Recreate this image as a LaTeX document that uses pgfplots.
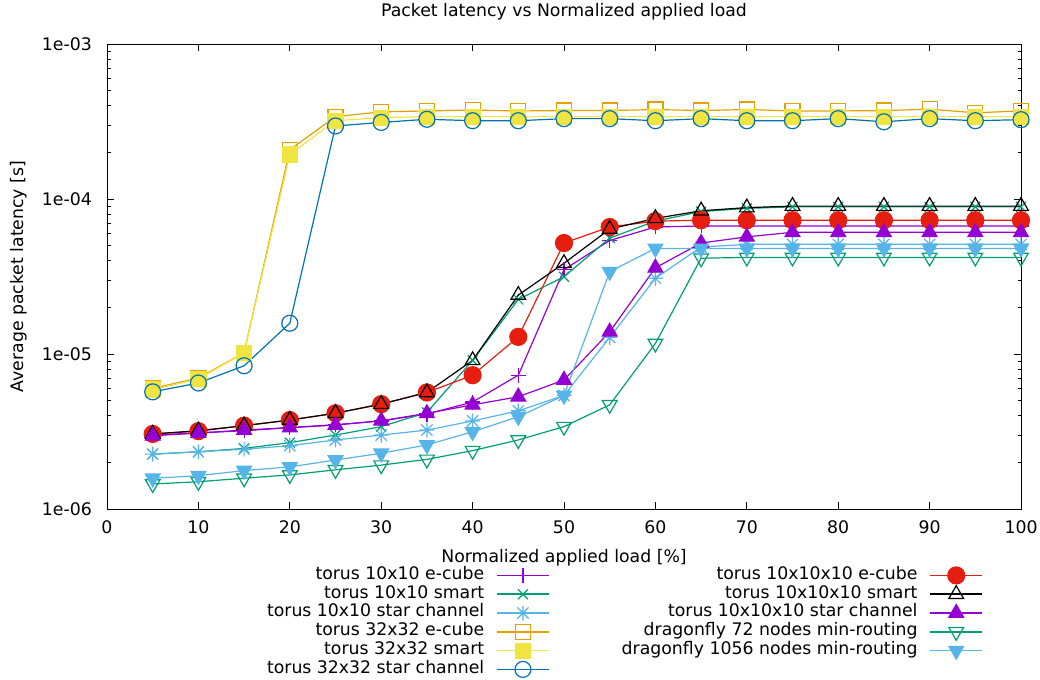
\documentclass[border=0pt]{standalone}
\usepackage{fontspec}
\setmainfont{DejaVu Sans}
\usepackage{pgfplots}
\pgfplotsset{compat=1.18}
\usetikzlibrary{plotmarks}
\definecolor{cpurple}{HTML}{9400D3}
\definecolor{cgreen}{HTML}{009E73}
\definecolor{clblue}{HTML}{56B4E9}
\definecolor{corange}{HTML}{E69F00}
\definecolor{cyellow}{HTML}{F0E442}
\definecolor{cblue}{HTML}{0072B2}
\definecolor{cred}{HTML}{E51E10}
\pgfdeclareplotmark{star8}{%
 \pgfpathmoveto{\pgfqpoint{-\pgfplotmarksize}{0pt}}%
 \pgfpathlineto{\pgfqpoint{\pgfplotmarksize}{0pt}}%
 \pgfpathmoveto{\pgfqpoint{0pt}{-\pgfplotmarksize}}%
 \pgfpathlineto{\pgfqpoint{0pt}{\pgfplotmarksize}}%
 \pgfpathmoveto{\pgfqpoint{-.75\pgfplotmarksize}{-.75\pgfplotmarksize}}%
 \pgfpathlineto{\pgfqpoint{.75\pgfplotmarksize}{.75\pgfplotmarksize}}%
 \pgfpathmoveto{\pgfqpoint{-.75\pgfplotmarksize}{.75\pgfplotmarksize}}%
 \pgfpathlineto{\pgfqpoint{.75\pgfplotmarksize}{-.75\pgfplotmarksize}}%
 \pgfusepathqstroke}
\begin{document}
\begin{tikzpicture}
\path[use as bounding box] (0,0) rectangle (1040bp,680bp);
\begin{axis}[
 at={(107bp,171bp)}, anchor=south west,
 scale only axis, width=914bp, height=465bp,
 ymode=log, xmin=0, xmax=100, ymin=1e-6, ymax=1e-3,
 xtick={0,10,...,100},
 ytick={1e-6,1e-5,1e-4,1e-3},
 yticklabels={1e-06,1e-05,1e-04,1e-03},
 /pgf/number format/assume math mode=true,
 tick align=inside,
 major tick length=7bp, minor tick length=3.5bp,
 axis line style={line width=1bp},
 every tick/.style={black, line width=0.8bp},
 font=\fontsize{17.3bp}{20bp}\selectfont,
 tick label style={font=\fontsize{17.3bp}{20bp}\selectfont},
 xticklabel style={anchor=center, inner sep=0pt, yshift=-18bp},
 yticklabel style={anchor=east, inner sep=0pt, xshift=-15bp},
 title={Packet latency vs Normalized applied load},
 title style={at={(axis description cs:0.5,1.057)}, anchor=center, inner sep=0pt},
 xlabel={Normalized applied load [\%]},
 xlabel style={at={(axis description cs:0.5,-0.104)}, anchor=center, inner sep=0pt},
 ylabel={Average packet latency [s]},
 ylabel style={at={(axis description cs:-0.0963,0.5)}, anchor=center, inner sep=0pt},
 clip=false, axis on top,
 every axis plot/.append style={line width=1.2bp},
 legend image code/.code={%
   \draw[#1, mark=none, line width=1.5bp] (0bp,0bp) -- (52bp,0bp);%
   \draw[#1, line width=1.2bp] plot coordinates {(26bp,0bp)};},
 legend plot pos=right, legend cell align=right,
 transpose legend, legend columns=6,
 legend style={at={(axis description cs:0.9584,-0.1226)}, anchor=north east, draw=none, fill=none,
   inner sep=0pt, outer sep=0pt, row sep=0pt, font=\fontsize{17.3bp}{19bp}\selectfont,
   nodes={inner xsep=0pt, inner ysep=0pt, text height=13.3bp, text depth=5.5bp},
   /tikz/every odd column/.append style={column sep=12bp},
   /tikz/every even column/.append style={column sep=72bp}},
]
\addplot[color=cpurple, mark=+, mark size=7.5bp] coordinates {
(5,3.0e-6)(10,3.1e-6)(15,3.2e-6)(20,3.35e-6)(25,3.5e-6)(30,3.7e-6)(35,4.1e-6)(40,4.9e-6)(45,7.3e-6)(50,3.5e-5)
(55,5.4e-5)(60,6.6e-5)(65,6.7e-5)(70,6.7e-5)(75,6.7e-5)(80,6.7e-5)(85,6.7e-5)(90,6.7e-5)(95,6.7e-5)(100,6.7e-5)};
\addlegendentry{torus 10x10 e-cube}
\addplot[color=cgreen, mark=x, mark size=7bp] coordinates {
(5,2.26e-6)(10,2.34e-6)(15,2.46e-6)(20,2.68e-6)(25,3.0e-6)(30,3.4e-6)(35,4.2e-6)(40,9.1e-6)(45,2.25e-5)(50,3.15e-5)
(55,5.6e-5)(60,7.2e-5)(65,8.3e-5)(70,8.7e-5)(75,8.9e-5)(80,8.9e-5)(85,8.9e-5)(90,8.9e-5)(95,8.9e-5)(100,8.9e-5)};
\addlegendentry{torus 10x10 smart}
\addplot[color=clblue, mark=star8, mark size=7.5bp] coordinates {
(5,2.26e-6)(10,2.34e-6)(15,2.43e-6)(20,2.56e-6)(25,2.79e-6)(30,3.0e-6)(35,3.23e-6)(40,3.7e-6)(45,4.3e-6)(50,5.4e-6)
(55,1.28e-5)(60,3.08e-5)(65,4.9e-5)(70,5.1e-5)(75,5.1e-5)(80,5.1e-5)(85,5.1e-5)(90,5.1e-5)(95,5.1e-5)(100,5.1e-5)};
\addlegendentry{torus 10x10 star channel}
\addplot[color=corange, mark=square, mark size=7.5bp] coordinates {
(5,6.0e-6)(10,7.0e-6)(15,1.02e-5)(20,2.08e-4)(25,3.4e-4)(30,3.65e-4)(35,3.7e-4)(40,3.75e-4)(45,3.7e-4)(50,3.72e-4)
(55,3.72e-4)(60,3.78e-4)(65,3.72e-4)(70,3.78e-4)(75,3.7e-4)(80,3.7e-4)(85,3.72e-4)(90,3.8e-4)(95,3.6e-4)(100,3.7e-4)};
\addlegendentry{torus 32x32 e-cube}
\addplot[color=cyellow, mark=square*, mark options={fill=cyellow}, mark size=7.5bp] coordinates {
(5,5.9e-6)(10,6.9e-6)(15,1.02e-5)(20,1.94e-4)(25,3.2e-4)(30,3.35e-4)(35,3.4e-4)(40,3.4e-4)(45,3.4e-4)(50,3.4e-4)
(55,3.4e-4)(60,3.4e-4)(65,3.4e-4)(70,3.4e-4)(75,3.4e-4)(80,3.4e-4)(85,3.4e-4)(90,3.4e-4)(95,3.4e-4)(100,3.4e-4)};
\addlegendentry{torus 32x32 smart}
\addplot[color=cblue, mark=o, mark size=8bp] coordinates {
(5,5.7e-6)(10,6.5e-6)(15,8.4e-6)(20,1.58e-5)(25,2.96e-4)(30,3.12e-4)(35,3.27e-4)(40,3.2e-4)(45,3.2e-4)(50,3.3e-4)
(55,3.3e-4)(60,3.2e-4)(65,3.3e-4)(70,3.2e-4)(75,3.2e-4)(80,3.3e-4)(85,3.15e-4)(90,3.3e-4)(95,3.2e-4)(100,3.25e-4)};
\addlegendentry{torus 32x32 star channel}
\addplot[color=cred, mark=*, mark options={fill=cred}, mark size=8.5bp] coordinates {
(5,3.05e-6)(10,3.18e-6)(15,3.45e-6)(20,3.75e-6)(25,4.15e-6)(30,4.75e-6)(35,5.65e-6)(40,7.3e-6)(45,1.29e-5)(50,5.2e-5)
(55,6.6e-5)(60,7.2e-5)(65,7.3e-5)(70,7.3e-5)(75,7.3e-5)(80,7.3e-5)(85,7.3e-5)(90,7.3e-5)(95,7.3e-5)(100,7.3e-5)};
\addlegendentry{torus 10x10x10 e-cube}
\addplot[color=black, mark=triangle, mark size=8.5bp] coordinates {
(5,3.05e-6)(10,3.2e-6)(15,3.45e-6)(20,3.75e-6)(25,4.15e-6)(30,4.75e-6)(35,5.65e-6)(40,9.1e-6)(45,2.4e-5)(50,3.85e-5)
(55,6.4e-5)(60,7.5e-5)(65,8.4e-5)(70,8.8e-5)(75,9.0e-5)(80,9.0e-5)(85,9.0e-5)(90,9.0e-5)(95,9.0e-5)(100,9.0e-5)};
\addlegendentry{torus 10x10x10 smart}
\addplot[color=cpurple, mark=triangle*, mark options={fill=cpurple}, mark size=8.5bp] coordinates {
(5,2.97e-6)(10,3.09e-6)(15,3.23e-6)(20,3.35e-6)(25,3.48e-6)(30,3.71e-6)(35,4.14e-6)(40,4.7e-6)(45,5.3e-6)(50,6.8e-6)
(55,1.39e-5)(60,3.6e-5)(65,5.2e-5)(70,5.7e-5)(75,6.1e-5)(80,6.1e-5)(85,6.1e-5)(90,6.1e-5)(95,6.1e-5)(100,6.1e-5)};
\addlegendentry{torus 10x10x10 star channel}
\addplot[color=cgreen, mark=triangle, mark options={rotate=180}, mark size=8.5bp] coordinates {
(5,1.45e-6)(10,1.5e-6)(15,1.58e-6)(20,1.66e-6)(25,1.79e-6)(30,1.92e-6)(35,2.09e-6)(40,2.38e-6)(45,2.79e-6)(50,3.4e-6)
(55,4.7e-6)(60,1.17e-5)(65,4.15e-5)(70,4.2e-5)(75,4.2e-5)(80,4.2e-5)(85,4.2e-5)(90,4.2e-5)(95,4.2e-5)(100,4.2e-5)};
\addlegendentry{dragonfly 72 nodes min-routing}
\addplot[color=clblue, mark=triangle*, mark options={rotate=180, fill=clblue}, mark size=8.5bp] coordinates {
(5,1.58e-6)(10,1.64e-6)(15,1.77e-6)(20,1.87e-6)(25,2.07e-6)(30,2.29e-6)(35,2.59e-6)(40,3.15e-6)(45,3.94e-6)(50,5.4e-6)
(55,3.4e-5)(60,4.8e-5)(65,4.8e-5)(70,4.8e-5)(75,4.8e-5)(80,4.8e-5)(85,4.8e-5)(90,4.8e-5)(95,4.8e-5)(100,4.8e-5)};
\addlegendentry{dragonfly 1056 nodes min-routing}
\end{axis}
\end{tikzpicture}
\end{document}
